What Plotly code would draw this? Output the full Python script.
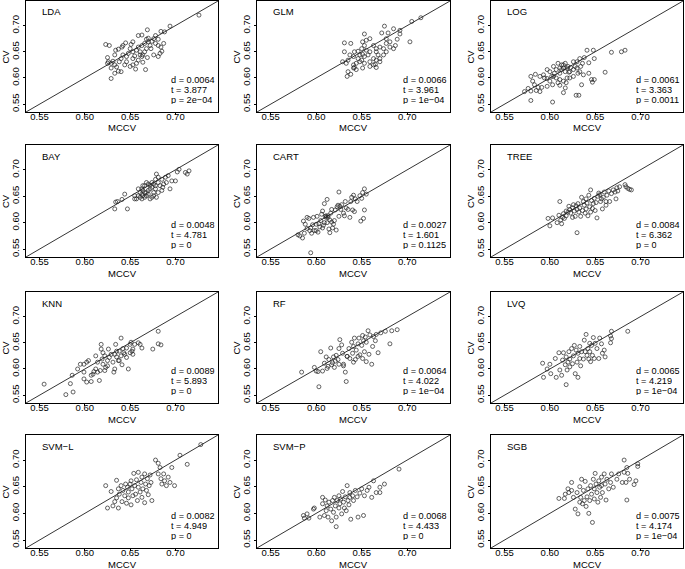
import plotly.graph_objects as go

# ---------------- data (MCCV, CV) ----------------
methods = ["LDA", "GLM", "LOG", "BAY", "CART", "TREE", "KNN", "RF", "LVQ", "SVM−L", "SVM−P", "SGB"]
d_vals = ["0.0064", "0.0066", "0.0061", "0.0048", "0.0027", "0.0084", "0.0089", "0.0064", "0.0065", "0.0082", "0.0068", "0.0075"]
t_vals = ["3.877", "3.961", "3.363", "4.781", "1.601", "6.362", "5.893", "4.022", "4.219", "4.949", "4.433", "4.174"]
p_vals = ["2e−04", "1e−04", "0.0011", "0", "0.1125", "0", "0", "1e−04", "1e−04", "0", "0", "1e−04"]
tick_vals = [0.55, 0.60, 0.65, 0.70]
tick_text = ["0.55", "0.60", "0.65", "0.70"]
axis_range = [0.535, 0.747]

lda = [(0.623,0.664),(0.627,0.662),(0.634,0.653),(0.641,0.659),(0.645,0.667),(0.651,0.664),(0.663,0.682),(0.669,0.692),(0.670,0.676),(0.676,0.675),(0.684,0.689),(0.688,0.688),(0.694,0.699),(0.726,0.720),(0.625,0.639),(0.626,0.631),(0.629,0.628),(0.631,0.632),(0.633,0.625),(0.635,0.621),(0.638,0.631),(0.640,0.637),(0.642,0.644),(0.646,0.641),(0.648,0.647),(0.650,0.656),(0.653,0.650),(0.655,0.642),(0.657,0.653),(0.659,0.659),(0.661,0.650),(0.663,0.662),(0.664,0.644),(0.666,0.666),(0.668,0.656),(0.670,0.669),(0.672,0.662),(0.674,0.670),(0.678,0.666),(0.681,0.662),(0.684,0.659),(0.685,0.651),(0.683,0.647),(0.666,0.650),(0.663,0.641),(0.659,0.634),(0.657,0.628),(0.653,0.625),(0.656,0.617),(0.667,0.616),(0.664,0.630),(0.669,0.639),(0.650,0.622),(0.644,0.625),(0.637,0.613),(0.629,0.599),(0.633,0.609),(0.640,0.612),(0.646,0.631),(0.642,0.662),(0.637,0.655),(0.633,0.644),(0.676,0.644),(0.673,0.656),(0.653,0.669),(0.659,0.681),(0.668,0.674),(0.678,0.681),(0.681,0.674),(0.687,0.666),(0.681,0.641),(0.629,0.619),(0.625,0.628),(0.661,0.644),(0.653,0.637)]
glm = [(0.631,0.667),(0.638,0.666),(0.631,0.650),(0.629,0.631),(0.633,0.628),(0.635,0.612),(0.634,0.603),(0.638,0.607),(0.642,0.620),(0.644,0.628),(0.646,0.637),(0.648,0.644),(0.651,0.645),(0.650,0.656),(0.651,0.669),(0.655,0.672),(0.653,0.684),(0.659,0.675),(0.663,0.662),(0.666,0.650),(0.668,0.644),(0.663,0.637),(0.659,0.631),(0.666,0.620),(0.665,0.626),(0.670,0.631),(0.675,0.699),(0.679,0.686),(0.685,0.694),(0.672,0.686),(0.677,0.675),(0.681,0.669),(0.689,0.674),(0.692,0.684),(0.692,0.691),(0.705,0.708),(0.715,0.715),(0.703,0.669),(0.681,0.659),(0.685,0.656),(0.687,0.662),(0.674,0.656),(0.670,0.659),(0.674,0.644),(0.677,0.650),(0.657,0.644),(0.659,0.650),(0.655,0.653),(0.653,0.641),(0.650,0.634),(0.648,0.631),(0.641,0.641),(0.637,0.644),(0.635,0.634),(0.642,0.650),(0.653,0.628),(0.663,0.625),(0.666,0.634),(0.670,0.637),(0.659,0.622),(0.651,0.619),(0.644,0.616),(0.641,0.625),(0.666,0.656),(0.653,0.662),(0.646,0.651),(0.641,0.619),(0.677,0.666)]
log = [(0.572,0.574),(0.576,0.580),(0.579,0.575),(0.579,0.557),(0.579,0.603),(0.584,0.607),(0.581,0.594),(0.585,0.576),(0.589,0.574),(0.591,0.582),(0.597,0.584),(0.597,0.616),(0.597,0.599),(0.600,0.594),(0.603,0.587),(0.603,0.554),(0.604,0.603),(0.607,0.600),(0.609,0.591),(0.611,0.609),(0.613,0.616),(0.615,0.625),(0.617,0.581),(0.615,0.572),(0.619,0.600),(0.621,0.611),(0.623,0.620),(0.626,0.631),(0.629,0.567),(0.632,0.567),(0.631,0.609),(0.634,0.622),(0.636,0.628),(0.638,0.639),(0.643,0.629),(0.641,0.653),(0.648,0.653),(0.649,0.637),(0.643,0.609),(0.646,0.597),(0.649,0.597),(0.647,0.592),(0.635,0.587),(0.661,0.611),(0.668,0.649),(0.679,0.650),(0.683,0.653),(0.607,0.616),(0.611,0.619),(0.613,0.625),(0.615,0.619),(0.617,0.612),(0.619,0.619),(0.620,0.622),(0.622,0.612),(0.626,0.616),(0.628,0.622),(0.630,0.619),(0.633,0.612),(0.637,0.606),(0.605,0.609),(0.602,0.603),(0.594,0.600),(0.593,0.606),(0.589,0.603),(0.611,0.597),(0.615,0.594),(0.618,0.591),(0.622,0.600),(0.626,0.603),(0.604,0.622),(0.609,0.628),(0.617,0.628),(0.630,0.631),(0.633,0.637),(0.600,0.612),(0.587,0.582),(0.583,0.587),(0.611,0.586)]
bay = [(0.633,0.626),(0.634,0.639),(0.636,0.640),(0.641,0.644),(0.644,0.654),(0.647,0.626),(0.655,0.651),(0.657,0.645),(0.661,0.657),(0.663,0.664),(0.664,0.651),(0.666,0.670),(0.668,0.657),(0.670,0.673),(0.672,0.664),(0.674,0.676),(0.676,0.657),(0.678,0.682),(0.679,0.692),(0.681,0.686),(0.683,0.670),(0.685,0.661),(0.687,0.673),(0.689,0.686),(0.690,0.676),(0.692,0.689),(0.696,0.679),(0.702,0.696),(0.704,0.701),(0.711,0.695),(0.713,0.692),(0.715,0.698),(0.700,0.679),(0.694,0.664),(0.663,0.645),(0.666,0.648),(0.670,0.654),(0.672,0.645),(0.676,0.651),(0.679,0.648),(0.681,0.657),(0.659,0.664),(0.664,0.670),(0.668,0.676),(0.674,0.667),(0.678,0.670),(0.670,0.661),(0.666,0.657),(0.663,0.654),(0.659,0.651),(0.674,0.648),(0.678,0.664),(0.681,0.676),(0.685,0.682),(0.686,0.667),(0.661,0.648),(0.668,0.651),(0.672,0.671),(0.676,0.673),(0.664,0.661),(0.655,0.645)]
cart = [(0.580,0.577),(0.582,0.575),(0.585,0.571),(0.586,0.603),(0.588,0.597),(0.590,0.589),(0.590,0.610),(0.592,0.608),(0.593,0.585),(0.594,0.543),(0.594,0.590),(0.595,0.580),(0.596,0.596),(0.597,0.610),(0.598,0.585),(0.600,0.597),(0.601,0.612),(0.602,0.582),(0.603,0.598),(0.605,0.604),(0.606,0.616),(0.607,0.622),(0.607,0.590),(0.608,0.595),(0.609,0.636),(0.610,0.612),(0.611,0.613),(0.612,0.600),(0.612,0.644),(0.613,0.610),(0.614,0.588),(0.615,0.581),(0.615,0.605),(0.616,0.618),(0.617,0.625),(0.618,0.590),(0.619,0.597),(0.620,0.604),(0.621,0.624),(0.622,0.586),(0.623,0.630),(0.624,0.633),(0.625,0.658),(0.625,0.612),(0.627,0.625),(0.628,0.634),(0.630,0.618),(0.631,0.613),(0.632,0.640),(0.633,0.628),(0.635,0.625),(0.637,0.610),(0.638,0.640),(0.639,0.648),(0.640,0.624),(0.641,0.652),(0.642,0.621),(0.643,0.645),(0.645,0.640),(0.648,0.651),(0.649,0.603),(0.650,0.646),(0.651,0.657),(0.652,0.608),(0.653,0.664),(0.653,0.624),(0.655,0.654),(0.613,0.613),(0.611,0.610),(0.626,0.631),(0.604,0.592),(0.600,0.585),(0.587,0.580),(0.609,0.600),(0.617,0.601)]
tree = [(0.598,0.608),(0.600,0.594),(0.603,0.609),(0.608,0.600),(0.610,0.614),(0.611,0.640),(0.612,0.605),(0.613,0.598),(0.614,0.610),(0.615,0.617),(0.616,0.608),(0.618,0.613),(0.620,0.620),(0.621,0.631),(0.622,0.625),(0.623,0.618),(0.625,0.628),(0.626,0.634),(0.627,0.622),(0.628,0.612),(0.629,0.632),(0.630,0.581),(0.630,0.625),(0.631,0.636),(0.632,0.620),(0.633,0.628),(0.634,0.612),(0.635,0.648),(0.636,0.623),(0.637,0.640),(0.638,0.633),(0.639,0.618),(0.640,0.645),(0.640,0.626),(0.641,0.637),(0.642,0.613),(0.643,0.652),(0.644,0.630),(0.645,0.662),(0.645,0.620),(0.646,0.642),(0.647,0.627),(0.648,0.636),(0.649,0.646),(0.650,0.623),(0.651,0.638),(0.652,0.609),(0.653,0.650),(0.654,0.656),(0.655,0.653),(0.656,0.640),(0.657,0.645),(0.658,0.626),(0.659,0.648),(0.660,0.658),(0.662,0.640),(0.663,0.652),(0.665,0.660),(0.666,0.640),(0.668,0.655),(0.670,0.662),(0.672,0.658),(0.673,0.645),(0.674,0.666),(0.675,0.660),(0.677,0.668),(0.683,0.672),(0.684,0.668),(0.686,0.665),(0.688,0.663),(0.690,0.662),(0.662,0.633),(0.618,0.622),(0.625,0.610)]
knn = [(0.555,0.571),(0.579,0.551),(0.587,0.556),(0.584,0.572),(0.586,0.588),(0.592,0.600),(0.595,0.609),(0.599,0.609),(0.602,0.613),(0.604,0.616),(0.599,0.594),(0.599,0.581),(0.602,0.575),(0.607,0.576),(0.609,0.590),(0.610,0.595),(0.612,0.600),(0.612,0.625),(0.614,0.613),(0.616,0.578),(0.617,0.597),(0.618,0.647),(0.618,0.638),(0.619,0.619),(0.620,0.609),(0.622,0.625),(0.623,0.603),(0.625,0.616),(0.626,0.638),(0.627,0.622),(0.629,0.628),(0.631,0.613),(0.632,0.594),(0.633,0.600),(0.634,0.647),(0.635,0.634),(0.637,0.616),(0.638,0.634),(0.640,0.625),(0.640,0.659),(0.641,0.608),(0.642,0.639),(0.644,0.628),(0.646,0.640),(0.648,0.600),(0.650,0.647),(0.651,0.651),(0.652,0.634),(0.653,0.638),(0.655,0.647),(0.659,0.650),(0.661,0.647),(0.663,0.640),(0.675,0.638),(0.681,0.672),(0.681,0.648),(0.684,0.646),(0.620,0.631),(0.625,0.606),(0.635,0.623),(0.638,0.616),(0.633,0.628),(0.643,0.631),(0.650,0.631),(0.653,0.628),(0.646,0.622),(0.622,0.597),(0.614,0.594),(0.607,0.588)]
rf = [(0.584,0.594),(0.598,0.603),(0.600,0.596),(0.602,0.595),(0.603,0.566),(0.605,0.633),(0.607,0.596),(0.609,0.611),(0.611,0.623),(0.612,0.601),(0.614,0.618),(0.616,0.640),(0.617,0.608),(0.619,0.623),(0.620,0.603),(0.621,0.615),(0.622,0.626),(0.624,0.618),(0.625,0.639),(0.626,0.656),(0.628,0.646),(0.629,0.630),(0.630,0.609),(0.632,0.594),(0.633,0.576),(0.634,0.624),(0.636,0.639),(0.637,0.620),(0.639,0.651),(0.640,0.630),(0.641,0.643),(0.642,0.659),(0.643,0.618),(0.644,0.636),(0.646,0.648),(0.647,0.659),(0.648,0.627),(0.650,0.645),(0.651,0.664),(0.652,0.654),(0.653,0.633),(0.654,0.661),(0.655,0.651),(0.657,0.673),(0.658,0.628),(0.659,0.665),(0.661,0.609),(0.662,0.643),(0.663,0.662),(0.665,0.654),(0.666,0.666),(0.668,0.631),(0.671,0.669),(0.676,0.672),(0.683,0.673),(0.689,0.675),(0.681,0.648),(0.625,0.609),(0.630,0.606),(0.634,0.624),(0.641,0.613),(0.646,0.624),(0.651,0.620),(0.655,0.614),(0.618,0.612),(0.613,0.605)]
lvq = [(0.592,0.611),(0.593,0.584),(0.597,0.600),(0.600,0.609),(0.601,0.591),(0.606,0.620),(0.607,0.584),(0.610,0.631),(0.611,0.598),(0.613,0.588),(0.614,0.617),(0.615,0.631),(0.617,0.608),(0.618,0.570),(0.618,0.623),(0.619,0.598),(0.620,0.613),(0.621,0.633),(0.622,0.604),(0.622,0.619),(0.624,0.639),(0.625,0.610),(0.626,0.625),(0.627,0.645),(0.628,0.591),(0.629,0.636),(0.630,0.613),(0.631,0.630),(0.631,0.584),(0.633,0.620),(0.633,0.643),(0.634,0.606),(0.635,0.633),(0.637,0.619),(0.638,0.655),(0.639,0.633),(0.640,0.666),(0.641,0.626),(0.642,0.639),(0.643,0.619),(0.644,0.649),(0.644,0.633),(0.645,0.614),(0.646,0.645),(0.647,0.626),(0.648,0.660),(0.649,0.620),(0.650,0.649),(0.652,0.639),(0.654,0.620),(0.655,0.659),(0.657,0.648),(0.658,0.630),(0.660,0.636),(0.661,0.623),(0.667,0.650),(0.667,0.663),(0.668,0.672),(0.668,0.658),(0.686,0.672)]
svml = [(0.623,0.652),(0.625,0.610),(0.629,0.641),(0.631,0.614),(0.633,0.622),(0.635,0.662),(0.635,0.629),(0.637,0.646),(0.637,0.610),(0.638,0.636),(0.640,0.652),(0.641,0.622),(0.642,0.643),(0.644,0.633),(0.645,0.655),(0.646,0.619),(0.647,0.649),(0.648,0.640),(0.648,0.629),(0.650,0.655),(0.651,0.616),(0.651,0.661),(0.652,0.646),(0.653,0.633),(0.654,0.675),(0.655,0.652),(0.656,0.636),(0.657,0.663),(0.658,0.624),(0.659,0.649),(0.659,0.677),(0.661,0.640),(0.662,0.658),(0.663,0.630),(0.663,0.668),(0.664,0.646),(0.666,0.620),(0.666,0.674),(0.667,0.655),(0.668,0.643),(0.669,0.665),(0.670,0.635),(0.671,0.652),(0.672,0.672),(0.673,0.658),(0.674,0.624),(0.678,0.700),(0.681,0.694),(0.681,0.674),(0.683,0.686),(0.684,0.665),(0.685,0.655),(0.687,0.674),(0.688,0.661),(0.690,0.652),(0.692,0.668),(0.694,0.658),(0.696,0.686),(0.699,0.652),(0.705,0.709),(0.713,0.692),(0.728,0.729)]
svmp = [(0.586,0.596),(0.587,0.591),(0.590,0.599),(0.592,0.591),(0.597,0.608),(0.598,0.610),(0.604,0.593),(0.607,0.618),(0.607,0.630),(0.609,0.596),(0.610,0.625),(0.611,0.605),(0.612,0.614),(0.613,0.593),(0.614,0.621),(0.616,0.608),(0.617,0.586),(0.618,0.624),(0.619,0.602),(0.620,0.630),(0.621,0.614),(0.622,0.593),(0.622,0.575),(0.623,0.624),(0.625,0.610),(0.625,0.633),(0.626,0.618),(0.627,0.627),(0.628,0.599),(0.629,0.641),(0.630,0.621),(0.631,0.610),(0.632,0.631),(0.633,0.605),(0.634,0.652),(0.635,0.624),(0.636,0.616),(0.637,0.639),(0.637,0.630),(0.638,0.589),(0.640,0.633),(0.641,0.624),(0.643,0.643),(0.645,0.631),(0.646,0.593),(0.648,0.638),(0.650,0.646),(0.652,0.596),(0.653,0.633),(0.656,0.643),(0.658,0.649),(0.661,0.630),(0.663,0.661),(0.666,0.639),(0.670,0.649),(0.670,0.639),(0.675,0.655),(0.691,0.683)]
sgb = [(0.610,0.628),(0.617,0.636),(0.616,0.628),(0.620,0.646),(0.621,0.639),(0.624,0.658),(0.624,0.643),(0.626,0.630),(0.628,0.608),(0.630,0.639),(0.631,0.599),(0.633,0.650),(0.633,0.621),(0.634,0.630),(0.635,0.664),(0.636,0.618),(0.637,0.643),(0.638,0.624),(0.639,0.660),(0.640,0.613),(0.641,0.631),(0.642,0.646),(0.643,0.600),(0.644,0.624),(0.645,0.652),(0.646,0.636),(0.647,0.583),(0.648,0.664),(0.649,0.627),(0.649,0.646),(0.650,0.675),(0.651,0.655),(0.652,0.639),(0.653,0.621),(0.654,0.661),(0.655,0.649),(0.656,0.630),(0.657,0.668),(0.657,0.652),(0.658,0.639),(0.660,0.674),(0.661,0.655),(0.662,0.625),(0.663,0.664),(0.665,0.646),(0.667,0.658),(0.668,0.674),(0.670,0.649),(0.674,0.664),(0.676,0.674),(0.680,0.658),(0.682,0.677),(0.682,0.700),(0.684,0.658),(0.685,0.686),(0.685,0.625),(0.686,0.675),(0.688,0.664),(0.693,0.654),(0.695,0.661),(0.697,0.693),(0.697,0.688)]

panel_data = [lda, glm, log, bay, cart, tree, knn, rf, lvq, svml, svmp, sgb]

# ---------------- layout ----------------
W, H = 685, 569
col_px = [(26, 218), (257, 450), (491, 683)]
row_px = [(1, 112), (145, 257), (292, 403), (435, 548)]
FONT = "Liberation Sans, Arial, Helvetica, sans-serif"
FS = 9.5

fig = go.Figure()
layout = dict(width=W, height=H, margin=dict(l=0, r=0, t=0, b=0),
              paper_bgcolor="white", plot_bgcolor="white", showlegend=False,
              font=dict(family=FONT, size=FS, color="black"))
annotations = []

for i, name in enumerate(methods):
    r, c = divmod(i, 3)
    x0, x1 = col_px[c]
    y0, y1 = row_px[r]
    k = i + 1
    xa = "x" if k == 1 else f"x{k}"
    ya = "y" if k == 1 else f"y{k}"
    pts = panel_data[i]
    fig.add_trace(go.Scatter(x=[0.5, 0.8], y=[0.5, 0.8], mode="lines",
                             line=dict(color="black", width=0.8),
                             xaxis=xa, yaxis=ya, hoverinfo="skip"))
    fig.add_trace(go.Scatter(x=[p[0] for p in pts], y=[p[1] for p in pts], mode="markers",
                             marker=dict(symbol="circle-open", size=4, color="#222222",
                                         line=dict(width=0.7)),
                             xaxis=xa, yaxis=ya))
    common = dict(range=axis_range, tickvals=tick_vals, ticktext=tick_text,
                  showline=True, mirror=True, linecolor="black", linewidth=1,
                  ticks="outside", ticklen=2, tickcolor="black", tickwidth=0.8,
                  showgrid=False, zeroline=False,
                  tickfont=dict(family=FONT, size=FS, color="black"))
    layout["xaxis" if k == 1 else f"xaxis{k}"] = dict(domain=[x0 / W, x1 / W], anchor=ya,
                                                       ticklabelstandoff=-6, **common)
    layout["yaxis" if k == 1 else f"yaxis{k}"] = dict(domain=[1 - y1 / H, 1 - y0 / H], anchor=xa,
                                                       tickangle=-90, **common)
    # axis titles
    annotations.append(dict(text="MCCV", xref="paper", yref="paper", x=(x0 + x1) / 2 / W,
                            y=1 - (y1 + 16) / H, showarrow=False, xanchor="center", yanchor="middle",
                            font=dict(family=FONT, size=FS)))
    annotations.append(dict(text="CV", xref="paper", yref="paper", x=(x0 - 21) / W,
                            y=1 - (y0 + y1) / 2 / H, showarrow=False, xanchor="center", yanchor="middle",
                            textangle=-90, font=dict(family=FONT, size=FS)))
    # panel name
    annotations.append(dict(text=name, xref="paper", yref="paper", x=(x0 + 14) / W,
                            y=1 - (y0 + 11) / H, showarrow=False, xanchor="left", yanchor="middle",
                            font=dict(family=FONT, size=FS)))
    # stats
    for j, s in enumerate([f"d = {d_vals[i]}", f"t = {t_vals[i]}", f"p = {p_vals[i]}"]):
        annotations.append(dict(text=s, xref="paper", yref="paper", x=(x1 - 48) / W,
                                y=1 - (y1 - 33 + 10.2 * j) / H, showarrow=False,
                                xanchor="left", yanchor="middle", height=9, borderpad=0,
                                font=dict(family=FONT, size=9.2)))

layout["annotations"] = annotations
fig.update_layout(**layout)
fig.write_html("out.html", config={"displayModeBar": False},
               post_script="document.body.style.margin='0';document.body.style.overflow='hidden';")
